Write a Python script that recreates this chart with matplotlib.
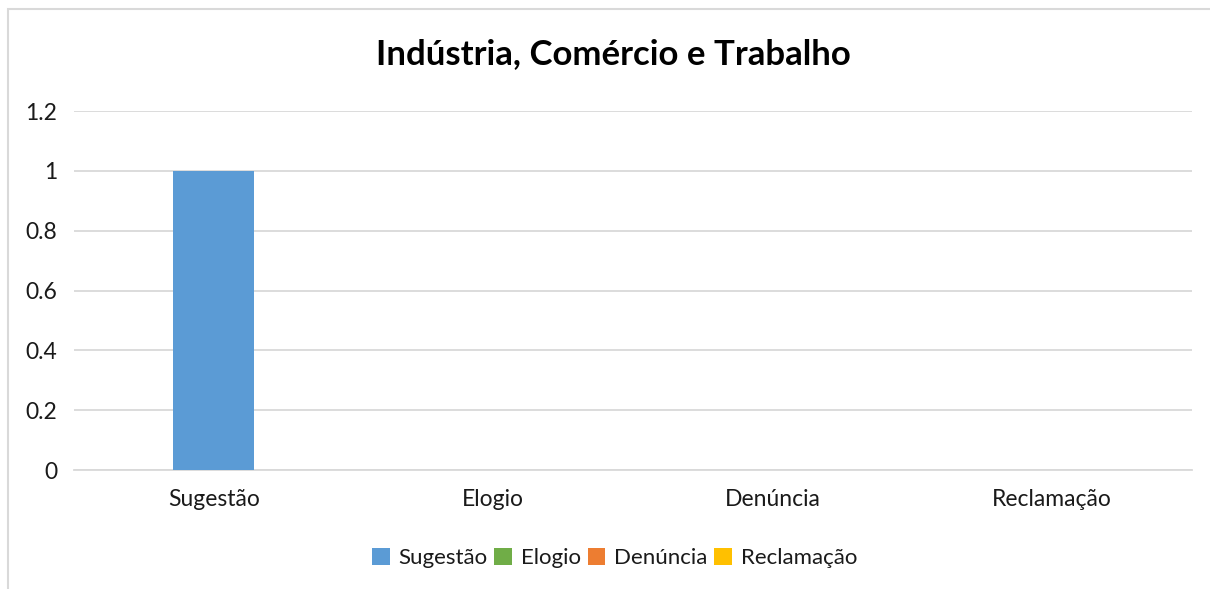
import matplotlib
matplotlib.use("Agg")
import matplotlib.pyplot as plt
from matplotlib.patches import Patch, Rectangle

categories = ['Sugestão', 'Elogio', 'Denúncia', 'Reclamação']
values = [1, 0, 0, 0]
colors = ['#5B9BD5', '#70AD47', '#ED7D31', '#FFC000']
yticks = [0, 0.2, 0.4, 0.6, 0.8, 1, 1.2]
ytick_labels = ['0', '0.2', '0.4', '0.6', '0.8', '1', '1.2']

plt.rcParams['font.family'] = ['Lato', 'DejaVu Sans']

fig = plt.figure(figsize=(12.1, 5.89), dpi=100)
ax = fig.add_axes([0.0612, 0.2020, 0.9239, 0.6095])

x = range(len(categories))
ax.bar(x, values, width=0.29, color=colors, zorder=3)

ax.set_xlim(-0.5, len(categories) - 0.5)
ax.set_ylim(0, 1.2)
ax.set_yticks(yticks)
ax.set_yticklabels(ytick_labels, fontsize=16.5, color='#1a1a1a')
ax.set_xticks(list(x))
ax.set_xticklabels(categories, fontsize=16.5, color='#1a1a1a')
ax.tick_params(axis='both', length=0)
ax.tick_params(axis='y', pad=12)
ax.tick_params(axis='x', pad=14)
ax.grid(axis='y', color='#D9D9D9', linewidth=1.3, zorder=0)
for side in ['top', 'right', 'left']:
    ax.spines[side].set_visible(False)
ax.spines['bottom'].set_color('#D9D9D9')
ax.spines['bottom'].set_linewidth(1.3)

fig.text(0.507, 0.909, 'Indústria, Comércio e Trabalho', ha='center', va='center',
         fontsize=25, fontweight='bold', color='black')

handles = [Patch(facecolor=c, edgecolor='none') for c in colors]
fig.legend(handles, categories, loc='center', bbox_to_anchor=(0.508, 0.052),
           ncol=4, frameon=False, fontsize=16, handlelength=0.8, handleheight=0.8,
           handletextpad=0.4, columnspacing=0.3, labelcolor='#1a1a1a')

# chart border
fig.patches.append(Rectangle((8 / 1210, -0.1), 1.2, 1 - 9 / 589 + 0.1,
                             transform=fig.transFigure, fill=False,
                             edgecolor='#D9D9D9', linewidth=1.5))

fig.savefig('out.png', dpi=100)
